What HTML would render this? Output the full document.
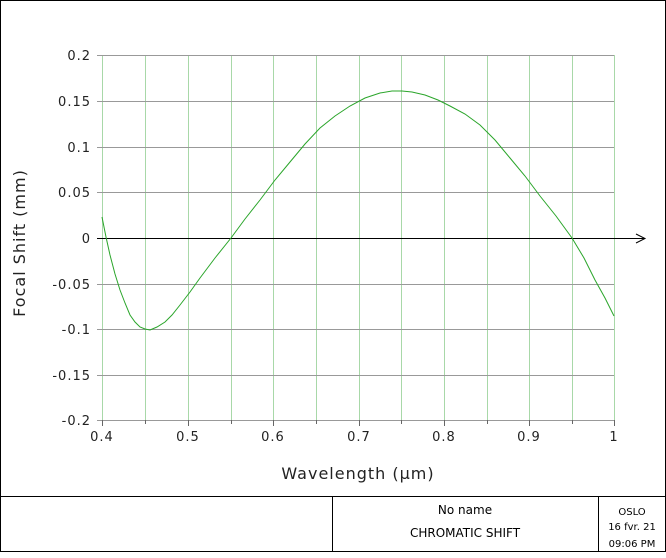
<!DOCTYPE html>
<html><head><style>
body{margin:0;background:#fff;}
svg text{font-family:"DejaVu Sans","Liberation Sans",sans-serif;}
</style></head><body>
<svg width="666" height="553" xmlns="http://www.w3.org/2000/svg">
<rect x="0.5" y="0.5" width="665" height="551" fill="#fff" stroke="#000"/>
<g stroke="#a8d8a8" stroke-width="1" shape-rendering="crispEdges">
<line x1="102.5" y1="55" x2="102.5" y2="420"/><line x1="145.5" y1="55" x2="145.5" y2="420"/>
<line x1="188.5" y1="55" x2="188.5" y2="420"/><line x1="231.5" y1="55" x2="231.5" y2="420"/>
<line x1="273.5" y1="55" x2="273.5" y2="420"/><line x1="316.5" y1="55" x2="316.5" y2="420"/>
<line x1="359.5" y1="55" x2="359.5" y2="420"/><line x1="401.5" y1="55" x2="401.5" y2="420"/>
<line x1="444.5" y1="55" x2="444.5" y2="420"/><line x1="487.5" y1="55" x2="487.5" y2="420"/>
<line x1="529.5" y1="55" x2="529.5" y2="420"/><line x1="572.5" y1="55" x2="572.5" y2="420"/>
<line x1="614.5" y1="55" x2="614.5" y2="420"/>
</g>
<g stroke="#999" stroke-width="1" shape-rendering="crispEdges">
<line x1="97" y1="55.5" x2="614" y2="55.5"/><line x1="97" y1="101.5" x2="614" y2="101.5"/>
<line x1="97" y1="147.5" x2="614" y2="147.5"/><line x1="97" y1="192.5" x2="614" y2="192.5"/>
<line x1="97" y1="284.5" x2="614" y2="284.5"/><line x1="97" y1="329.5" x2="614" y2="329.5"/>
<line x1="97" y1="375.5" x2="614" y2="375.5"/><line x1="97" y1="420.5" x2="614" y2="420.5"/>
</g>
<g stroke="#666" shape-rendering="crispEdges"><line x1="102.5" y1="420" x2="102.5" y2="426"/><line x1="188.5" y1="420" x2="188.5" y2="426"/><line x1="273.5" y1="420" x2="273.5" y2="426"/><line x1="359.5" y1="420" x2="359.5" y2="426"/><line x1="444.5" y1="420" x2="444.5" y2="426"/><line x1="529.5" y1="420" x2="529.5" y2="426"/><line x1="614.5" y1="420" x2="614.5" y2="426"/>
<line x1="145.5" y1="420" x2="145.5" y2="424"/><line x1="231.5" y1="420" x2="231.5" y2="424"/><line x1="316.5" y1="420" x2="316.5" y2="424"/><line x1="401.5" y1="420" x2="401.5" y2="424"/><line x1="487.5" y1="420" x2="487.5" y2="424"/><line x1="572.5" y1="420" x2="572.5" y2="424"/></g>
<line x1="97" y1="238.5" x2="644" y2="238.5" stroke="#000"/>
<path d="M636 234 L645 238.5 L636 243" fill="none" stroke="#000"/>
<polyline fill="none" stroke="#2aa52a" stroke-width="1" points="102,217 106,237 110,255 115,274 120,290 125,303 130,315 135,322 140,327 145,329 150,330 157,327 165,322 172,315 180,305 190,292 200,278 215,258 231,238 245,219 260,200 275,180 290,162 305,144 320,128 335,116 350,106 365,98 380,93 392,91 402,91 412,92 425,95 438,100 450,106 465,114 480,125 495,140 510,158 525,176 540,196 556,216 572,238 584,258 595,280 605,298 614,316"/>
<g font-size="13" fill="#222" text-anchor="end" letter-spacing="1">
<text x="91" y="60">0.2</text><text x="91" y="106">0.15</text><text x="91" y="152">0.1</text>
<text x="91" y="197">0.05</text><text x="91" y="243">0</text><text x="91" y="289">-0.05</text>
<text x="91" y="334">-0.1</text><text x="91" y="380">-0.15</text><text x="91" y="425">-0.2</text>
</g>
<g font-size="13" fill="#222" text-anchor="middle" letter-spacing="1">
<text x="102" y="441">0.4</text><text x="188" y="441">0.5</text><text x="273" y="441">0.6</text>
<text x="359" y="441">0.7</text><text x="444" y="441">0.8</text><text x="529" y="441">0.9</text><text x="614" y="441">1</text>
</g>
<text x="358" y="479" font-size="16" text-anchor="middle" fill="#222" letter-spacing="1">Wavelength (μm)</text>
<text transform="translate(25,243) rotate(-90)" font-size="16" text-anchor="middle" fill="#222" letter-spacing="1">Focal Shift (mm)</text>
<line x1="0" y1="496.5" x2="666" y2="496.5" stroke="#000"/>
<line x1="332.5" y1="496" x2="332.5" y2="552" stroke="#000"/>
<line x1="598.5" y1="496" x2="598.5" y2="552" stroke="#000"/>
<text x="465" y="514" font-size="12" text-anchor="middle" fill="#000">No name</text>
<text x="465" y="537" font-size="12" text-anchor="middle" fill="#000">CHROMATIC SHIFT</text>
<g font-size="10" text-anchor="middle" fill="#000">
<text x="632" y="515">OSLO</text><text x="632" y="530">16 fvr. 21</text><text x="632" y="547">09:06 PM</text>
</g>
</svg>
</body></html>
